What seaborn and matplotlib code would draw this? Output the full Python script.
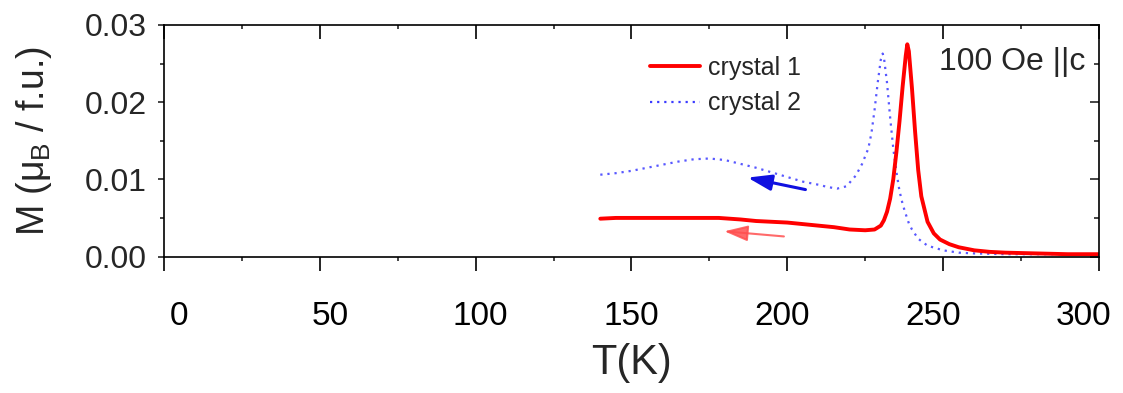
import matplotlib
matplotlib.use("Agg")
import matplotlib.pyplot as plt
from matplotlib.lines import Line2D
from matplotlib.ticker import MultipleLocator
from matplotlib.transforms import ScaledTranslation
import seaborn as sns
import pandas as pd

# Magnetization vs temperature, 100 Oe applied along c
T1 = [140, 145, 150, 160, 170, 178, 185, 190, 200, 210, 215, 220, 225, 228,
      230, 231, 232, 233, 234, 235, 236, 237, 238, 238.5, 239, 240, 241, 242,
      243, 245, 247, 249, 252, 255, 260, 265, 270, 280, 290, 300]
M1 = [0.0049, 0.0050, 0.0050, 0.0050, 0.0050, 0.0050, 0.0048, 0.0046, 0.0044,
      0.0040, 0.0038, 0.0035, 0.0034, 0.0035, 0.0040, 0.0047, 0.0058, 0.0075,
      0.0100, 0.0135, 0.0175, 0.0220, 0.0260, 0.0275, 0.0266, 0.0218, 0.0162,
      0.0112, 0.0078, 0.0045, 0.0030, 0.0022, 0.0016, 0.0012, 0.0008, 0.0006,
      0.0005, 0.0004, 0.0003, 0.0003]

T2 = [140, 145, 150, 155, 160, 165, 170, 175, 180, 185, 190, 195, 200, 205,
      210, 213, 216, 219, 222, 224, 226, 227, 228, 229, 230, 230.6, 231, 232,
      233, 234, 235, 236, 237, 238, 239, 240, 242, 245, 250, 255, 260, 270,
      280, 290, 300]
M2 = [0.0106, 0.0108, 0.0111, 0.0115, 0.0119, 0.0123, 0.0126, 0.0127, 0.0125,
      0.0120, 0.0115, 0.0109, 0.0103, 0.0097, 0.0093, 0.0090, 0.0088, 0.0091,
      0.0105, 0.0120, 0.0140, 0.0160, 0.0190, 0.0225, 0.0255, 0.0263, 0.0258,
      0.0225, 0.0180, 0.0140, 0.0110, 0.0085, 0.0068, 0.0055, 0.0043, 0.0035,
      0.0023, 0.0014, 0.0008, 0.0005, 0.0004, 0.0003, 0.0003, 0.0003, 0.0003]

labels = ["crystal 1", "crystal 2"]
x_ticks = [0, 50, 100, 150, 200, 250, 300]
y_ticks = [0.00, 0.01, 0.02, 0.03]

sns.set_theme(style="ticks")
plt.rcParams["font.family"] = ["Liberation Sans", "DejaVu Sans"]
plt.rcParams["mathtext.fontset"] = "custom"
plt.rcParams["mathtext.rm"] = "Liberation Sans"
plt.rcParams["mathtext.it"] = "Liberation Sans"

fig = plt.figure(figsize=(11.23, 3.93), dpi=100)
ax = fig.add_axes([0.146, 0.3473, 0.8326, 0.5891])

d1 = pd.DataFrame({"T": T1, "M": M1})
d2 = pd.DataFrame({"T": T2, "M": M2})
sns.lineplot(data=d2, x="T", y="M", ax=ax, color="#3b3bff", lw=1.6,
             linestyle=(0, (1, 2.2)), alpha=0.85)
sns.lineplot(data=d1, x="T", y="M", ax=ax, color="#ff0000", lw=2.8)

# cooling-direction arrows
ax.annotate("", xy=(186.4, 0.0103), xytext=(206.7, 0.0086),
            arrowprops=dict(arrowstyle="-|>,head_length=0.9,head_width=0.3",
                            color="#1010e0", lw=2.2, mutation_scale=16))
ax.annotate("", xy=(178.9, 0.0033), xytext=(199.8, 0.00257),
            arrowprops=dict(arrowstyle="-|>,head_length=0.9,head_width=0.3",
                            color="#ff5050", lw=1.5, mutation_scale=16,
                            alpha=0.85))

ax.set_xlim(0, 300)
ax.set_ylim(0, 0.03)
ax.set_xticks(x_ticks)
ax.set_yticks(y_ticks)
ax.set_yticklabels([f"{v:.2f}" for v in y_ticks], fontsize=23)
ax.set_xticklabels([str(v) for v in x_ticks], fontsize=24)
ax.xaxis.set_minor_locator(MultipleLocator(25))
ax.yaxis.set_minor_locator(MultipleLocator(0.005))

for s in ax.spines.values():
    s.set_linewidth(1.2)
    s.set_color("black")
    s.set_visible(True)

ax.tick_params(axis="x", which="major", direction="out", length=10, width=1.2,
               pad=22, top=True, colors="black")
ax.tick_params(axis="x", which="minor", direction="out", length=3, width=1.2,
               top=True)
ax.tick_params(axis="y", which="major", direction="out", length=4.5,
               width=1.2, pad=8, right=True)
ax.tick_params(axis="y", which="minor", direction="out", length=3, width=1.2,
               right=True)
# ticks on the mirrored top/right spines point inward
for t in ax.xaxis.get_major_ticks() + ax.xaxis.get_minor_ticks():
    t.tick2line.set_marker(3)
for t in ax.yaxis.get_major_ticks():
    t.tick2line.set_marker(0)
    t.tick2line.set_markersize(6.5)
for t in ax.yaxis.get_minor_ticks():
    t.tick2line.set_marker(0)
    t.tick2line.set_markersize(3.5)

# tick labels sit slightly toward the middle of the axis
for v, tick in zip(x_ticks, ax.xaxis.get_major_ticks()):
    dx = -(v - 150) / 150 * 11 / 72
    lab = tick.label1
    lab.set_transform(lab.get_transform() +
                      ScaledTranslation(dx, 0, fig.dpi_scale_trans))

ax.set_xlabel("T(K)", fontsize=30, labelpad=8)
ax.set_ylabel(r"M ($\mu_{\rm B}$ / f.u.)", fontsize=27, labelpad=22)

ax.text(0.985, 0.84, "100 Oe ||c", transform=ax.transAxes, ha="right",
        va="center", fontsize=23)

handles = [Line2D([], [], color="#ff0000", lw=2.8),
           Line2D([], [], color="#3b3bff", lw=1.6, linestyle=(0, (1, 2.2)))]
ax.legend(handles, labels, loc="upper left", bbox_to_anchor=(0.52, 0.865),
          frameon=False, fontsize=18, handlelength=2.0, handletextpad=0.3,
          labelspacing=0.45, borderaxespad=0, borderpad=0)

sns.despine(ax=ax, top=False, right=False)
fig.savefig("out.png", dpi=100)
